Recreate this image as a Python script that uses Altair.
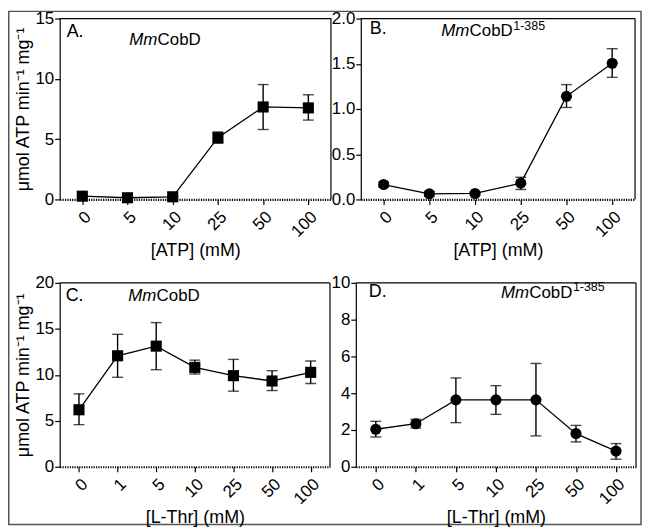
import altair as alt
import pandas as pd

# ---------------- data ----------------
atp_conc = ["0", "5", "10", "25", "50", "100"]
thr_conc = ["0", "1", "5", "10", "25", "50", "100"]

a_mean = [0.27, 0.14, 0.22, 5.12, 7.67, 7.59]
a_lo = [0.17, 0.05, 0.12, 4.66, 5.80, 6.58]
a_hi = [0.37, 0.23, 0.32, 5.60, 9.53, 8.68]

b_mean = [0.165, 0.062, 0.066, 0.18, 1.14, 1.506]
b_lo = [0.14, 0.035, 0.05, 0.11, 1.017, 1.35]
b_hi = [0.19, 0.09, 0.08, 0.245, 1.27, 1.667]

c_mean = [6.2, 12.07, 13.12, 10.81, 9.91, 9.33, 10.27]
c_lo = [4.58, 9.73, 10.56, 10.09, 8.22, 8.29, 9.05]
c_hi = [7.93, 14.41, 15.68, 11.6, 11.68, 10.45, 11.5]

d_mean = [2.04, 2.34, 3.64, 3.64, 3.64, 1.8, 0.85]
d_lo = [1.62, 2.11, 2.4, 2.85, 1.68, 1.35, 0.41]
d_hi = [2.47, 2.58, 4.83, 4.41, 5.62, 2.25, 1.26]

y_title = "μmol ATP min⁻¹ mg⁻¹"
FONT = "Liberation Sans"


def txt(t, x, y, size, style="normal"):
    return alt.Chart(pd.DataFrame({"t": [t]})).mark_text(
        align="left", baseline="alphabetic", fontSize=size, font=FONT,
        fontStyle=style, color="black"
    ).encode(text="t:N", x=alt.value(x), y=alt.value(y))


def panel(cats, mean, lo, hi, shape, ymax, yvals, fmt, w, h, xtitle, show_ytitle,
          letter, lx, ly, mx, my, sup, border=None):
    df = pd.DataFrame({"c": cats, "m": mean, "lo": lo, "hi": hi})
    yaxis_kw = dict(values=yvals, tickCount=len(yvals) + 2, format=fmt, tickSize=5,
                    labelFontSize=17, labelPadding=1, domainWidth=1.2, tickWidth=1.2,
                    labelOverlap=False)
    if show_ytitle:
        yaxis_kw.update(title=y_title, titleFontSize=18, titlePadding=2)
    else:
        yaxis_kw.update(title="")
    x = alt.X("c:N", sort=cats, scale=alt.Scale(type="point", padding=0.5),
              axis=alt.Axis(title=xtitle, labelAngle=-45, labelFontSize=17,
                            titleFontSize=18, domainDash=[1.2, 1.2], domainWidth=2.2,
                            tickSize=5, tickWidth=1.2, labelPadding=4, titlePadding=2,
                            labelOverlap=False))
    y = alt.Y("m:Q", scale=alt.Scale(domain=[0, ymax], nice=False), axis=alt.Axis(**yaxis_kw))
    base = alt.Chart(df)
    line = base.mark_line(color="black", strokeWidth=1.3).encode(x=x, y=y)
    err = base.mark_rule(color="black", strokeWidth=1.4).encode(x=x, y="lo:Q", y2="hi:Q")
    cap_lo = base.mark_tick(color="black", size=11, thickness=1.4).encode(x=x, y="lo:Q")
    cap_hi = base.mark_tick(color="black", size=11, thickness=1.4).encode(x=x, y="hi:Q")
    pts = base.mark_point(filled=True, shape=shape, size=125, color="black", opacity=1).encode(x=x, y="m:Q")
    one = alt.Chart(pd.DataFrame({"k": [0]}))
    top = one.mark_rule(color="black", strokeWidth=1.2).encode(
        x=alt.value(0), x2=alt.value(w), y=alt.value(0))
    right = one.mark_rule(color="black", strokeWidth=1.2).encode(
        x=alt.value(w), y=alt.value(0), y2=alt.value(h))
    layers = [line, err, cap_lo, cap_hi, pts, top, right,
              txt(letter, lx, ly, 18),
              txt("Mm", mx, my, 17, "italic"),
              txt("CobD", mx + 28.5, my, 17)]
    if sup:
        layers.append(txt("1-385", mx + 72.5, my - 7, 12.5))
    if border:
        bx, by, bx2, by2 = border
        layers.append(one.mark_rect(fill=None, stroke="#555555", strokeWidth=1.5, clip=False).encode(
            x=alt.value(bx), y=alt.value(by), x2=alt.value(bx2), y2=alt.value(by2)))
    return alt.layer(*layers).properties(width=w, height=h)


pA = panel(atp_conc, a_mean, a_lo, a_hi, "square", 15, [0, 5, 10, 15], "d", 273, 182,
           "[ATP] (mM)", True, "A.", 7, 19, 70, 27, False, border=(-51.25, -7.25, 585, 509))
pB = panel(atp_conc, b_mean, b_lo, b_hi, "circle", 2.0, [0, 0.5, 1.0, 1.5, 2.0], ".1f", 276, 182,
           "[ATP] (mM)", False, "B.", 9, 16, 81, 18, True)
pC = panel(thr_conc, c_mean, c_lo, c_hi, "square", 20, [0, 5, 10, 15, 20], "d", 272, 185,
           "[L-Thr] (mM)", True, "C.", 6, 18, 69, 18, False)
pD = panel(thr_conc, d_mean, d_lo, d_hi, "circle", 10, [0, 2, 4, 6, 8, 10], "d", 282, 185,
           "[L-Thr] (mM)", False, "D.", 13, 14, 146, 15, True)

chart = alt.vconcat(
    alt.hconcat(pA, pB, spacing=30, bounds="flush"),
    alt.hconcat(pC, pD, spacing=26, bounds="flush"),
    spacing=266, bounds="flush",
).properties(padding=0).configure_view(stroke=None).configure_axis(
    labelFont=FONT, titleFont=FONT, labelColor="black", titleColor="black",
    domainColor="black", tickColor="black", grid=False, titleFontWeight="normal"
)

chart.save("out.html", embed_options={"renderer": "svg", "actions": False})
